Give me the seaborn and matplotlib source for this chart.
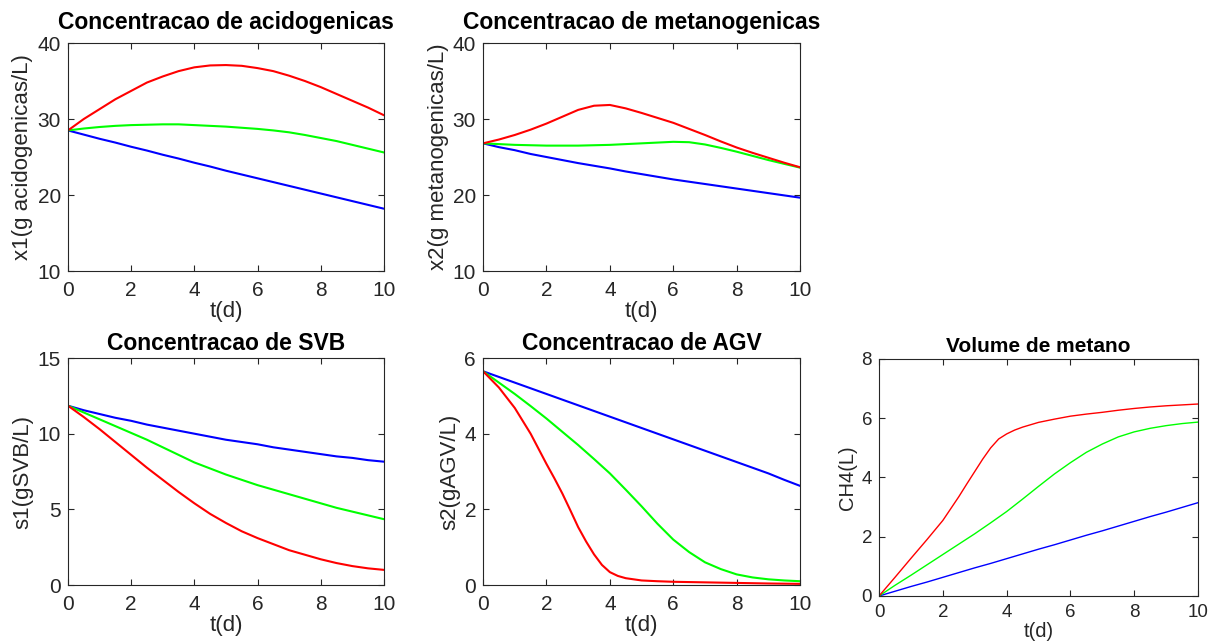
import numpy as np
import pandas as pd
import matplotlib
matplotlib.use("Agg")
import matplotlib.pyplot as plt
import seaborn as sns

t = [0, 0.5, 1, 1.5, 2, 2.5, 3, 3.5, 4, 4.5, 5, 5.5, 6, 6.5, 7, 7.5, 8, 8.5, 9, 9.5, 10]
t_s2_red = [0, 0.5, 1, 1.5, 2, 2.25, 2.5, 2.75, 3, 3.25, 3.5, 3.75, 4, 4.25, 4.5, 5, 5.5, 6, 7, 8, 9, 10]
t_ch4_red = [0, 0.5, 1, 1.5, 2, 2.5, 2.75, 3, 3.25, 3.5, 3.75, 4, 4.25, 4.5, 5, 5.5, 6, 6.5, 7, 7.5, 8, 8.5, 9, 9.5, 10]

x1_red = [28.5, 30.0, 31.3, 32.6, 33.7, 34.8, 35.6, 36.3, 36.8, 37.05, 37.1, 37.0, 36.7, 36.3, 35.7, 35.0, 34.2, 33.3, 32.4, 31.5, 30.5]
x1_green = [28.5, 28.75, 28.95, 29.1, 29.2, 29.25, 29.3, 29.3, 29.2, 29.1, 29.0, 28.85, 28.7, 28.5, 28.25, 27.9, 27.5, 27.1, 26.6, 26.1, 25.6]
x1_blue = [28.5, 27.95, 27.4, 26.9, 26.35, 25.85, 25.3, 24.8, 24.25, 23.75, 23.2, 22.7, 22.2, 21.7, 21.2, 20.7, 20.2, 19.7, 19.2, 18.7, 18.2]

x2_red = [26.8, 27.3, 27.9, 28.6, 29.4, 30.3, 31.2, 31.75, 31.85, 31.4, 30.8, 30.15, 29.5, 28.7, 27.9, 27.05, 26.25, 25.55, 24.9, 24.25, 23.65]
x2_green = [26.8, 26.7, 26.6, 26.55, 26.5, 26.5, 26.5, 26.55, 26.6, 26.7, 26.8, 26.9, 27.0, 26.95, 26.65, 26.2, 25.7, 25.15, 24.6, 24.1, 23.6]
x2_blue = [26.8, 26.3, 25.9, 25.4, 25.0, 24.6, 24.2, 23.85, 23.5, 23.1, 22.75, 22.4, 22.05, 21.75, 21.45, 21.15, 20.85, 20.55, 20.25, 19.95, 19.65]

s1_red = [11.85, 11.1, 10.3, 9.45, 8.6, 7.75, 6.95, 6.15, 5.4, 4.7, 4.1, 3.55, 3.1, 2.7, 2.3, 2.0, 1.7, 1.45, 1.25, 1.1, 1.0]
s1_green = [11.85, 11.4, 10.95, 10.5, 10.05, 9.6, 9.1, 8.6, 8.1, 7.7, 7.3, 6.95, 6.6, 6.3, 6.0, 5.7, 5.4, 5.1, 4.85, 4.6, 4.35]
s1_blue = [11.85, 11.55, 11.3, 11.05, 10.85, 10.6, 10.4, 10.2, 10.0, 9.8, 9.6, 9.45, 9.3, 9.1, 8.95, 8.8, 8.65, 8.5, 8.4, 8.25, 8.15]

s2_red = [5.65, 5.22, 4.68, 4.0, 3.2, 2.82, 2.42, 1.98, 1.53, 1.15, 0.81, 0.53, 0.34, 0.24, 0.18, 0.12, 0.1, 0.085, 0.07, 0.055, 0.04, 0.03]
s2_green = [5.65, 5.35, 5.05, 4.73, 4.4, 4.05, 3.7, 3.33, 2.95, 2.52, 2.08, 1.62, 1.2, 0.87, 0.6, 0.42, 0.28, 0.2, 0.15, 0.12, 0.1]
s2_blue = [5.65, 5.5, 5.35, 5.2, 5.05, 4.9, 4.75, 4.6, 4.45, 4.3, 4.15, 4.0, 3.85, 3.7, 3.55, 3.4, 3.25, 3.1, 2.95, 2.78, 2.62]

ch4_red = [0, 0.63, 1.27, 1.9, 2.55, 3.35, 3.78, 4.2, 4.62, 5.0, 5.3, 5.47, 5.6, 5.7, 5.86, 5.97, 6.07, 6.14, 6.2, 6.27, 6.33, 6.38, 6.42, 6.45, 6.48]
ch4_green = [0, 0.36, 0.7, 1.05, 1.4, 1.75, 2.1, 2.47, 2.85, 3.27, 3.7, 4.12, 4.5, 4.85, 5.13, 5.37, 5.54, 5.66, 5.75, 5.82, 5.87]
ch4_blue = [0, 0.16, 0.32, 0.47, 0.63, 0.79, 0.95, 1.1, 1.26, 1.42, 1.58, 1.73, 1.89, 2.05, 2.2, 2.36, 2.52, 2.68, 2.83, 2.99, 3.15]

titles = ["Concentracao de acidogenicas", "Concentracao de metanogenicas",
          "Concentracao de SVB", "Concentracao de AGV", "Volume de metano"]
ylabels = ["x1(g acidogenicas/L)", "x2(g metanogenicas/L)",
           "s1(gSVB/L)", "s2(gAGV/L)", "CH4(L)"]
xlabel = "t(d)"
yticks_list = [[10, 20, 30, 40], [10, 20, 30, 40], [0, 5, 10, 15], [0, 2, 4, 6], [0, 2, 4, 6, 8]]
xticks = [0, 2, 4, 6, 8, 10]

series = [
    [("blue", t, x1_blue), ("green", t, x1_green), ("red", t, x1_red)],
    [("blue", t, x2_blue), ("green", t, x2_green), ("red", t, x2_red)],
    [("blue", t, s1_blue), ("green", t, s1_green), ("red", t, s1_red)],
    [("blue", t, s2_blue), ("green", t, s2_green), ("red", t_s2_red, s2_red)],
    [("blue", t, ch4_blue), ("green", t, ch4_green), ("red", t_ch4_red, ch4_red)],
]
palette = {"blue": (0, 0, 1), "green": (0, 1, 0), "red": (1, 0, 0)}

sns.set_theme(style="ticks")
plt.rcParams["font.family"] = ["Liberation Sans", "DejaVu Sans"]

fig = plt.figure(figsize=(12.18, 6.43), dpi=100)
positions = [
    [0.0558, 0.5785, 0.2594, 0.3546],
    [0.3966, 0.5785, 0.2603, 0.3546],
    [0.0558, 0.0902, 0.2594, 0.3530],
    [0.3966, 0.0902, 0.2603, 0.3530],
    [0.7217, 0.0731, 0.2619, 0.3686],
]
title_pads = [10, 10, 6, 6, 5]
gray = (0.15, 0.15, 0.15)

for i, pos in enumerate(positions):
    ax = fig.add_axes(pos)
    rows = []
    for nm, tt_arr, vals in series[i]:
        for tt, v in zip(tt_arr, vals):
            rows.append({"t": tt, "v": v, "s": nm})
    df = pd.DataFrame(rows)
    small = (i == 4)
    sns.lineplot(data=df, x="t", y="v", hue="s", palette=palette, ax=ax,
                 legend=False, linewidth=1.0 if small else 1.5, sort=False)
    tfs = 13.5 if small else 15
    lfs = 14.5 if small else 16
    ax.set_xlim(0, 10)
    ax.set_ylim(yticks_list[i][0], yticks_list[i][-1])
    ax.set_xticks(xticks)
    ax.set_yticks(yticks_list[i])
    ax.tick_params(axis="both", direction="in", top=True, right=True, length=4, width=0.8,
                   colors=gray, labelsize=tfs)
    ax.tick_params(axis="x", pad=5.5 if small else 7)
    ax.tick_params(axis="y", pad=5)
    for sp in ax.spines.values():
        sp.set_color(gray)
        sp.set_linewidth(0.8)
        sp.set_visible(True)
    ax.set_xlabel(xlabel, fontsize=lfs, color=gray, labelpad=1)
    ax.set_ylabel(ylabels[i], fontsize=lfs, color=gray, labelpad=3)
    ax.set_title(titles[i], fontsize=15 if small else 16.5, fontweight="bold",
                 color="black", pad=title_pads[i])

fig.savefig("out.png", dpi=100)
